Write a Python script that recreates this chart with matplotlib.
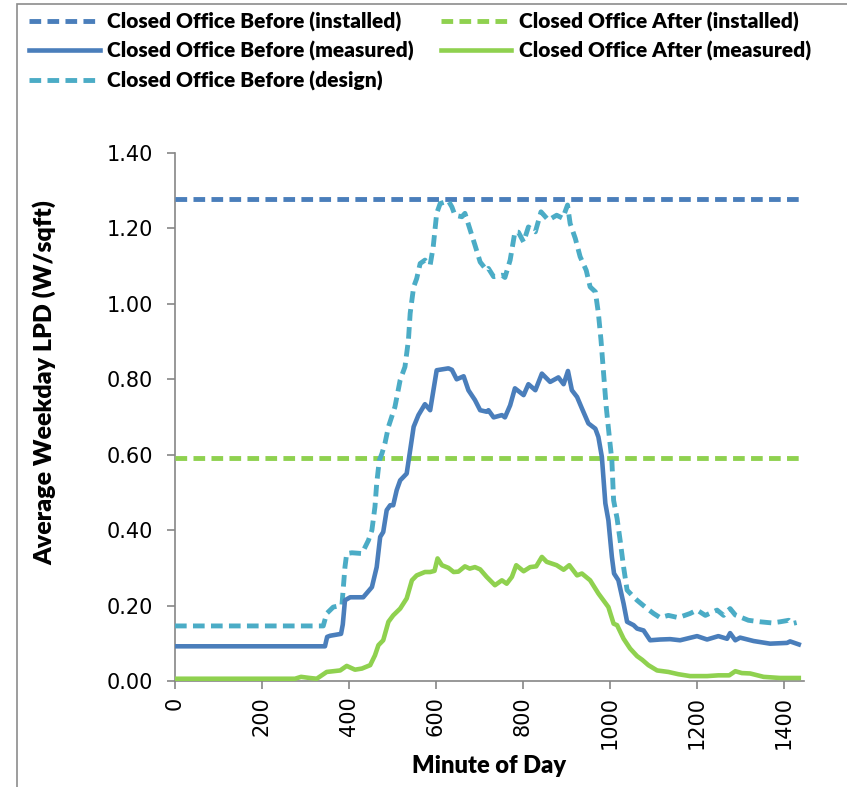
import matplotlib
matplotlib.use("Agg")
import matplotlib.pyplot as plt
from matplotlib.lines import Line2D
from matplotlib.patches import Rectangle

# Installed lighting power densities (W/sqft)
before_installed = 1.277
after_installed = 0.59

# Closed office, before retrofit, measured
before_meas_min = [0, 345, 350, 357, 382, 386, 391, 403, 433, 453, 464, 472, 479, 487, 495, 502,
                   510, 518, 533, 541, 549, 560, 575, 587, 602, 629, 637, 648, 664, 675, 690, 702,
                   717, 721, 733, 752, 759, 771, 782, 802, 813, 829, 844, 863, 882, 894, 904, 913,
                   925, 936, 951, 967, 974, 982, 990, 997, 1005, 1010, 1020, 1032, 1040, 1055, 1063,
                   1078, 1093, 1116, 1139, 1162, 1201, 1224, 1250, 1270, 1277, 1289, 1300, 1331,
                   1369, 1408, 1415, 1435]
before_meas_lpd = [0.092, 0.092, 0.117, 0.120, 0.125, 0.150, 0.214, 0.222, 0.222, 0.249, 0.302,
                   0.382, 0.395, 0.453, 0.466, 0.466, 0.506, 0.532, 0.550, 0.612, 0.674, 0.705,
                   0.734, 0.718, 0.824, 0.829, 0.825, 0.800, 0.808, 0.771, 0.745, 0.718, 0.714,
                   0.718, 0.699, 0.705, 0.699, 0.731, 0.776, 0.758, 0.787, 0.771, 0.815, 0.793,
                   0.805, 0.787, 0.822, 0.771, 0.753, 0.723, 0.683, 0.669, 0.647, 0.594, 0.471,
                   0.426, 0.329, 0.285, 0.267, 0.205, 0.157, 0.148, 0.139, 0.134, 0.108, 0.110,
                   0.111, 0.108, 0.119, 0.110, 0.119, 0.112, 0.127, 0.108, 0.115, 0.106, 0.099,
                   0.101, 0.105, 0.097]

# Closed office, before retrofit, design
before_design_min = [0, 341, 349, 364, 384, 391, 395, 407, 430, 445, 453, 460, 464, 470, 476, 483,
                     491, 506, 518, 529, 537, 541, 549, 556, 564, 575, 587, 594, 602, 610, 629,
                     637, 644, 660, 667, 679, 690, 702, 717, 721, 733, 752, 759, 771, 782, 790,
                     802, 813, 829, 842, 859, 878, 892, 903, 909, 921, 932, 946, 955, 967, 974,
                     980, 986, 992, 1000, 1005, 1009, 1017, 1024, 1032, 1040, 1055, 1063, 1086,
                     1101, 1116, 1135, 1158, 1185, 1201, 1220, 1247, 1262, 1277, 1289, 1319, 1346,
                     1373, 1392, 1412, 1419, 1430]
before_design_lpd = [0.146, 0.146, 0.179, 0.196, 0.201, 0.302, 0.338, 0.340, 0.338, 0.373, 0.400,
                     0.462, 0.524, 0.585, 0.603, 0.630, 0.674, 0.727, 0.798, 0.833, 0.904, 0.975,
                     1.045, 1.067, 1.107, 1.116, 1.103, 1.151, 1.240, 1.266, 1.273, 1.257, 1.235,
                     1.231, 1.240, 1.196, 1.156, 1.111, 1.089, 1.094, 1.072, 1.076, 1.070, 1.116,
                     1.191, 1.190, 1.164, 1.204, 1.191, 1.244, 1.222, 1.235, 1.227, 1.262, 1.213,
                     1.173, 1.125, 1.089, 1.045, 1.032, 0.975, 0.904, 0.815, 0.727, 0.638, 0.585,
                     0.479, 0.431, 0.373, 0.302, 0.241, 0.223, 0.214, 0.192, 0.179, 0.168, 0.174,
                     0.168, 0.179, 0.188, 0.174, 0.188, 0.174, 0.192, 0.175, 0.161, 0.157, 0.154,
                     0.157, 0.161, 0.152, 0.155]

# Closed office, after retrofit, measured
after_meas_min = [0, 276, 290, 310, 326, 349, 380, 395, 414, 430, 449, 460, 468, 479, 491, 502,
                  518, 533, 545, 556, 575, 587, 597, 604, 614, 629, 641, 652, 667, 678, 690, 702,
                  717, 736, 752, 763, 775, 785, 802, 817, 831, 844, 855, 878, 894, 907, 925, 936,
                  955, 974, 997, 1009, 1017, 1032, 1047, 1063, 1075, 1089, 1109, 1135, 1158, 1185,
                  1224, 1250, 1275, 1289, 1304, 1323, 1354, 1392, 1435]
after_meas_lpd = [0.006, 0.006, 0.011, 0.008, 0.006, 0.024, 0.028, 0.040, 0.030, 0.033, 0.042,
                  0.068, 0.095, 0.108, 0.157, 0.174, 0.192, 0.219, 0.267, 0.280, 0.289, 0.289,
                  0.292, 0.325, 0.307, 0.300, 0.289, 0.290, 0.304, 0.298, 0.302, 0.296, 0.276,
                  0.254, 0.267, 0.258, 0.276, 0.307, 0.291, 0.302, 0.304, 0.329, 0.316, 0.307,
                  0.295, 0.307, 0.280, 0.285, 0.267, 0.232, 0.196, 0.152, 0.148, 0.112, 0.086,
                  0.066, 0.056, 0.042, 0.028, 0.024, 0.018, 0.013, 0.013, 0.015, 0.015, 0.026,
                  0.021, 0.020, 0.011, 0.008, 0.008]

x_ticks = [0, 200, 400, 600, 800, 1000, 1200, 1400]
y_ticks = [0.0, 0.2, 0.4, 0.6, 0.8, 1.0, 1.2, 1.4]

BLUE = "#4a7ebb"
AQUA = "#4bacc6"
GREEN = "#8fd14f"
AXIS_GRAY = "#868686"

W, H = 847, 787
fig = plt.figure(figsize=(W / 100, H / 100), dpi=100)

# Chart area border
fig.add_artist(Rectangle((17 / W, -0.05), 1.2, 1 - 4 / H + 0.05, transform=fig.transFigure,
                         fill=False, edgecolor="#8c8c8c", linewidth=1.2))

ax = fig.add_axes([175 / W, 1 - 681 / H, (804 - 175) / W, (681 - 153) / H])

dash = (2.4, 1.3)
ax.axhline(before_installed, color=BLUE, lw=3.5, dashes=dash, zorder=3)
ax.axhline(after_installed, color=GREEN, lw=3.5, dashes=dash, zorder=3)
ax.plot(before_design_min, before_design_lpd, color=AQUA, lw=3.5, dashes=dash, zorder=4)
ax.plot(before_meas_min, before_meas_lpd, color=BLUE, lw=3.3, solid_joinstyle="round", zorder=5)
ax.plot(after_meas_min, after_meas_lpd, color=GREEN, lw=3.3, solid_joinstyle="round", zorder=5)

ax.set_xlim(0, 1447)
ax.set_ylim(0, 1.4)
ax.set_xticks(x_ticks)
ax.set_xticklabels([str(t) for t in x_ticks], rotation=90, fontsize=15, family="DejaVu Sans")
ax.set_yticks(y_ticks)
ax.set_yticklabels([f"{t:.2f}" for t in y_ticks], fontsize=15, family="DejaVu Sans")
for side in ("top", "right"):
    ax.spines[side].set_visible(False)
for side in ("left", "bottom"):
    ax.spines[side].set_color(AXIS_GRAY)
    ax.spines[side].set_linewidth(1.2)
ax.tick_params(axis="both", color=AXIS_GRAY, width=1.2, length=6, direction="out")
ax.tick_params(axis="x", pad=5)
ax.tick_params(axis="y", pad=10)

ax.set_xlabel("Minute of Day", labelpad=4, family="Lato", weight="heavy", fontsize=17)
ax.set_ylabel("Average Weekday LPD (W/sqft)", family="Lato", weight="heavy", fontsize=18,
              va="center", ha="center")
ax.yaxis.set_label_coords(-0.207, 0.565)

handles = [
    Line2D([], [], color=BLUE, lw=3.5, dashes=dash),
    Line2D([], [], color=BLUE, lw=3.3),
    Line2D([], [], color=AQUA, lw=3.5, dashes=dash),
    Line2D([], [], color=GREEN, lw=3.5, dashes=dash),
    Line2D([], [], color=GREEN, lw=3.3),
]
labels = [
    "Closed Office Before (installed)",
    "Closed Office Before (measured)",
    "Closed Office Before (design)",
    "Closed Office After (installed)",
    "Closed Office After (measured)",
]
fig.legend(handles, labels, ncol=2, loc="upper left", bbox_to_anchor=(10 / W, 1 + 7 / H),
           frameon=False, handlelength=3.4, handletextpad=0.35, columnspacing=1.3,
           labelspacing=0.45, prop=dict(family="Lato", weight="heavy", size=15))

fig.savefig("out.png", dpi=100)
